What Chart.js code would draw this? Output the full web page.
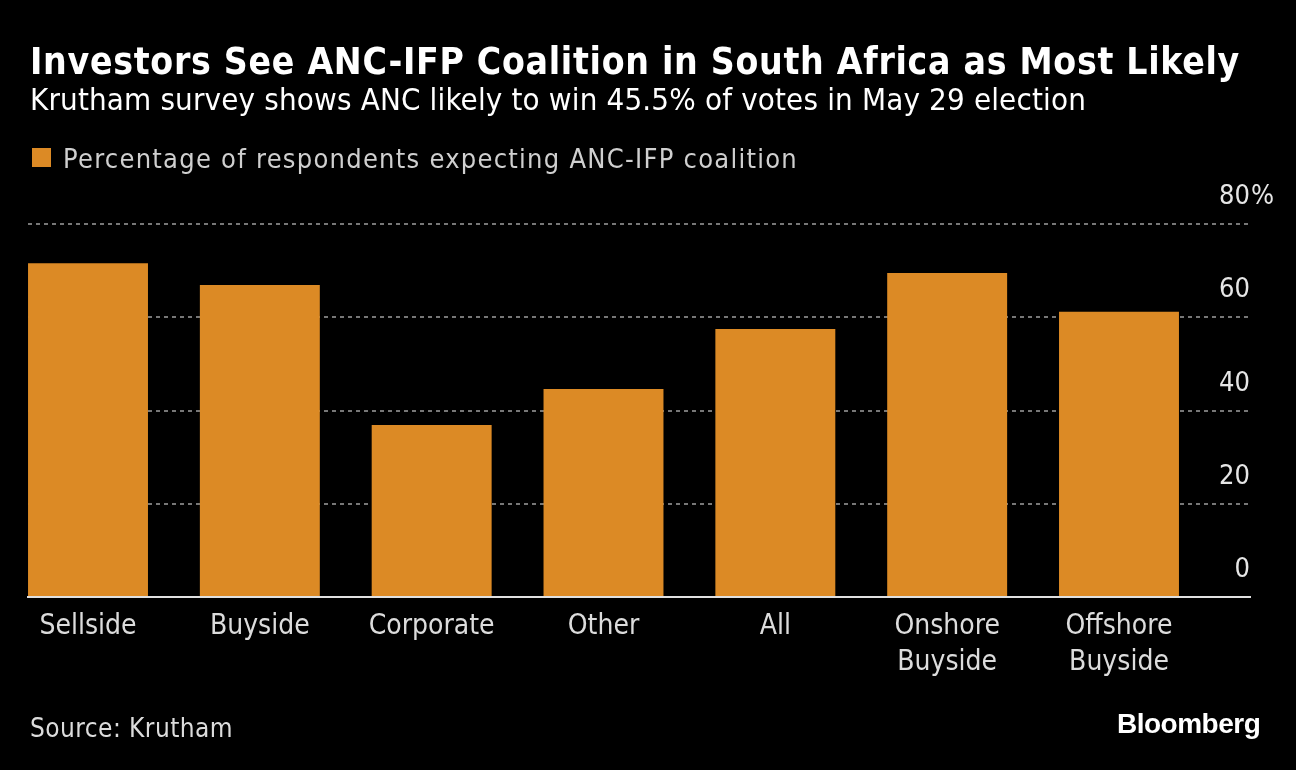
<!DOCTYPE html>
<html>
<head>
<meta charset="utf-8">
<script src="https://cdn.jsdelivr.net/npm/chart.js@4/dist/chart.umd.min.js"></script>
<style>
  html, body { margin: 0; padding: 0; background: #000; }
  #wrap { position: relative; width: 1296px; height: 770px; overflow: hidden; background: #000; }
  #c { position: absolute; left: 0; top: 0; }
  .t { position: absolute; white-space: nowrap; line-height: 1; font-family: "DejaVu Sans Condensed", "DejaVu Sans", sans-serif; }
  #title { left: 30px; top: 43px; font-size: 37px; font-weight: bold; color: #fff; }
  #subtitle { left: 30px; top: 84px; font-size: 31px; color: #fff; }
  #legend { left: 32px; top: 145px; font-size: 27px; color: #cfcfcf; }
  #legend .sw { position: absolute; left: 0; top: 3px; width: 19px; height: 19px; background: #DC8A25; }
  #legend .lt { position: absolute; left: 31px; top: 0; }
  #source { left: 30px; top: 715px; font-size: 26px; color: #dcdcdc; }
  #logo { left: 1117px; top: 710px; font-size: 28px; font-weight: bold; color: #fff; font-family: "Liberation Sans", Arial, sans-serif; letter-spacing: -0.5px; }
</style>
</head>
<body>
<div id="wrap">
  <canvas id="c" width="1296" height="770"></canvas>
  <div class="t" id="title">Investors See ANC-IFP Coalition in South Africa as Most Likely</div>
  <div class="t" id="subtitle">Krutham survey shows ANC likely to win 45.5% of votes in May 29 election</div>
  <div class="t" id="legend"><span class="sw"></span><span class="lt" id="legtext">Percentage of respondents expecting ANC-IFP coalition</span></div>
  <div class="t" id="source">Source: Krutham</div>
  <div class="t" id="logo">Bloomberg</div>
</div>
<script>
// ---- data ----
const categories = ['Sellside', 'Buyside', 'Corporate', 'Other', 'All', ['Onshore', 'Buyside'], ['Offshore', 'Buyside']];
const seriesName = 'Percentage of respondents expecting ANC-IFP coalition';
const expectingCoalition = [71.6, 66.9, 36.9, 44.6, 57.5, 69.5, 61.2];
const yTickValues = [0, 20, 40, 60, 80];
const yTickLabels = ['0', '20', '40', '60', '80'];
const yUnitSuffix = '%';

// ---- text width fitting (letter spacing) ----
function fit(id, target) {
  const el = document.getElementById(id);
  const w = el.getBoundingClientRect().width;
  const n = el.textContent.length;
  el.style.letterSpacing = ((target - w) / n) + 'px';
}
fit('title', 1210);
fit('subtitle', 1056);
fit('legtext', 735);
fit('source', 203);

const BAR = '#DC8A25';
const FONT = '"DejaVu Sans Condensed", "DejaVu Sans", sans-serif';
const labelOffsetY = -27;

const suffixPlugin = {
  id: 'suffix',
  afterDraw(chart) {
    const y = chart.scales.y;
    const ctx = chart.ctx;
    const top = yTickValues[yTickValues.length - 1];
    ctx.save();
    ctx.font = '27px ' + FONT;
    ctx.fillStyle = '#e6e6e6';
    ctx.textAlign = 'left';
    ctx.textBaseline = 'middle';
    ctx.fillText(yUnitSuffix, chart.chartArea.right + 1, y.getPixelForValue(top) + labelOffsetY);
    ctx.restore();
  }
};

new Chart(document.getElementById('c'), {
  type: 'bar',
  data: {
    datasets: [{
      label: seriesName,
      data: expectingCoalition.map((v, i) => ({ x: i, y: v })),
      backgroundColor: BAR,
      borderWidth: 0,
      categoryPercentage: 0.698,
      barPercentage: 1
    }]
  },
  options: {
    responsive: false,
    animation: false,
    devicePixelRatio: 1,
    layout: { padding: { top: 224, left: 28, right: 46, bottom: 0 } },
    plugins: { legend: { display: false }, tooltip: { enabled: false }, title: { display: false } },
    scales: {
      x: {
        type: 'linear',
        offset: false,
        min: -0.3492,
        max: 6.7624,
        afterBuildTicks(scale) { scale.ticks = categories.map((_, i) => ({ value: i })); },
        afterFit(scale) { scale.height = 173; },
        grid: { display: false },
        border: { display: true, color: '#e0e0e0', width: 2 },
        ticks: {
          autoSkip: false,
          maxRotation: 0,
          padding: 4,
          color: '#dcdcdc',
          font: { family: FONT, size: 28, lineHeight: 1.28 },
          callback: (v) => categories[v]
        }
      },
      y: {
        position: 'right',
        min: 0,
        max: 80,
        afterBuildTicks(scale) { scale.ticks = yTickValues.map(v => ({ value: v })); },
        afterFit(scale) { scale.width = 0; },
        grid: {
          drawTicks: false,
          lineWidth: 2,
          color: (ctx) => (ctx.tick && ctx.tick.value === 0) ? 'rgba(0,0,0,0)' : '#777'
        },
        border: { display: false, dash: [4, 4] },
        ticks: {
          mirror: true,
          padding: 0,
          labelOffset: labelOffsetY,
          color: '#e6e6e6',
          font: { family: FONT, size: 27 },
          callback: (v) => yTickLabels[yTickValues.indexOf(v)]
        }
      }
    }
  },
  plugins: [suffixPlugin]
});
</script>
</body>
</html>
